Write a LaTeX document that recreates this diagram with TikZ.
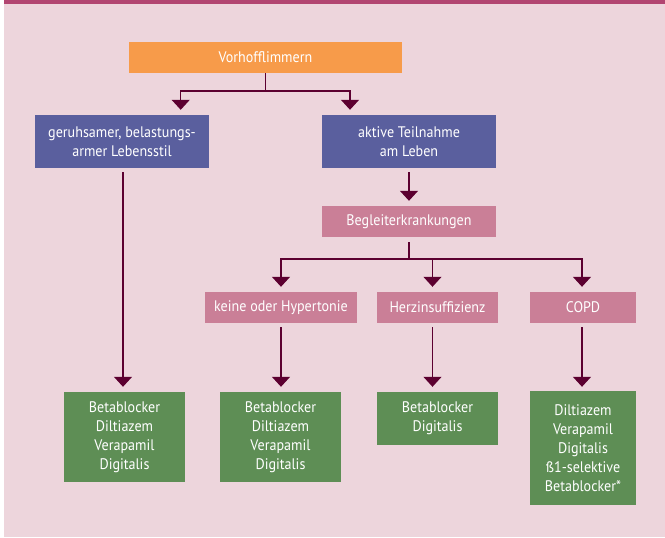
\documentclass[tikz,border=0pt]{standalone}
\usepackage{fontspec}
\setmainfont[FakeStretch=0.92]{PT Sans}
\usetikzlibrary{arrows.meta,calc}
\definecolor{bgpink}{HTML}{EDD5DC}
\definecolor{topbar}{HTML}{B24571}
\definecolor{orangebox}{HTML}{F79B4A}
\definecolor{bluebox}{HTML}{5A5F9E}
\definecolor{pinkbox}{HTML}{CA7F97}
\definecolor{greenbox}{HTML}{5E8E55}
\definecolor{arrowcol}{HTML}{5C0030}
\tikzset{
  box/.style={rectangle, inner sep=0pt, align=center, text=white,
    font=\fontsize{15.3}{19}\selectfont},
  topbox/.style={box, fill=orangebox},
  choicebox/.style={box, fill=bluebox},
  condbox/.style={box, fill=pinkbox},
  drugbox/.style={box, fill=greenbox},
  link/.style={draw=arrowcol, line width=1.3pt},
  arrowlink/.style={link, -{Triangle[width=18pt,length=10pt]}}
}
\begin{document}
\begin{tikzpicture}[x=1pt,y=-1pt]
  \useasboundingbox (0,0) rectangle (665,538);
  % background and top rule
  \fill[bgpink] (4,0) rectangle (665,537);
  \fill[topbar] (4,0) rectangle (665,4.3);

  % boxes
  \node[topbox, minimum width=273pt, minimum height=31pt] (vorhof) at (265.5,57.5) {Vorhofflimmern};
  \node[choicebox, minimum width=174pt, minimum height=53pt] (ruhig) at (122,141.5) {geruhsamer, belastungs-\\armer Lebensstil};
  \node[choicebox, minimum width=174pt, minimum height=53pt] (aktiv) at (409,141.5) {aktive Teilnahme\\am Leben};
  \node[condbox, minimum width=174pt, minimum height=31pt] (begl) at (409,221.5) {Begleiterkrankungen};
  \node[condbox, minimum width=152pt, minimum height=31pt] (keine) at (281,307.5) {keine oder Hypertonie};
  \node[condbox, minimum width=121pt, minimum height=31pt] (herz) at (437.5,307.5) {Herzinsuffizienz};
  \node[condbox, minimum width=106pt, minimum height=31pt] (copd) at (583,307.5) {COPD};
  \node[drugbox, minimum width=121pt, minimum height=90pt] (g1) at (124.5,437) {Betablocker\\Diltiazem\\Verapamil\\Digitalis};
  \node[drugbox, minimum width=121pt, minimum height=90pt] (g2) at (280.5,437) {Betablocker\\Diltiazem\\Verapamil\\Digitalis};
  \node[drugbox, minimum width=121pt, minimum height=53pt] (g3) at (437.5,418.5) {Betablocker\\Digitalis};
  \node[drugbox, minimum width=106pt, minimum height=114pt] (g4) at (583,448) {Diltiazem\\Verapamil\\Digitalis\\ß1-selektive\\Betablocker*};

  % branch points
  \coordinate (split1) at (265.5,91);
  \coordinate (split2) at (409,259);

  % connectors
  \draw[link] (vorhof.south) -- (split1);
  \draw[arrowlink] (split1) -| ($(ruhig.north)+(58.7,-5)$);
  \draw[arrowlink] (split1) -| ($(aktiv.north)+(-59,-5)$);

  \draw[arrowlink] ($(ruhig.south)+(1,4)$) -- ($(g1.north)+(-1.5,-5)$);
  \draw[arrowlink] ($(aktiv.south)+(0,4)$) -- ($(begl.north)+(0,-5)$);

  \draw[link] ($(begl.south)+(0,5)$) -- (split2);
  \draw[arrowlink] (split2) -| ($(keine.north)+(0,-5)$);
  \draw[arrowlink] (split2) -| ($(herz.north)+(-5,-5)$);
  \draw[arrowlink] (split2) -| ($(copd.north)+(-1,-5)$);

  \draw[arrowlink] ($(keine.south)+(0,4)$) -- ($(g2.north)+(0.5,-5)$);
  \draw[arrowlink] ($(herz.south)+(-5,4)$) -- ($(g3.north)+(-5,-5)$);
  \draw[arrowlink] ($(copd.south)+(-1,4)$) -- ($(g4.north)+(-1,-4)$);
\end{tikzpicture}
\end{document}
